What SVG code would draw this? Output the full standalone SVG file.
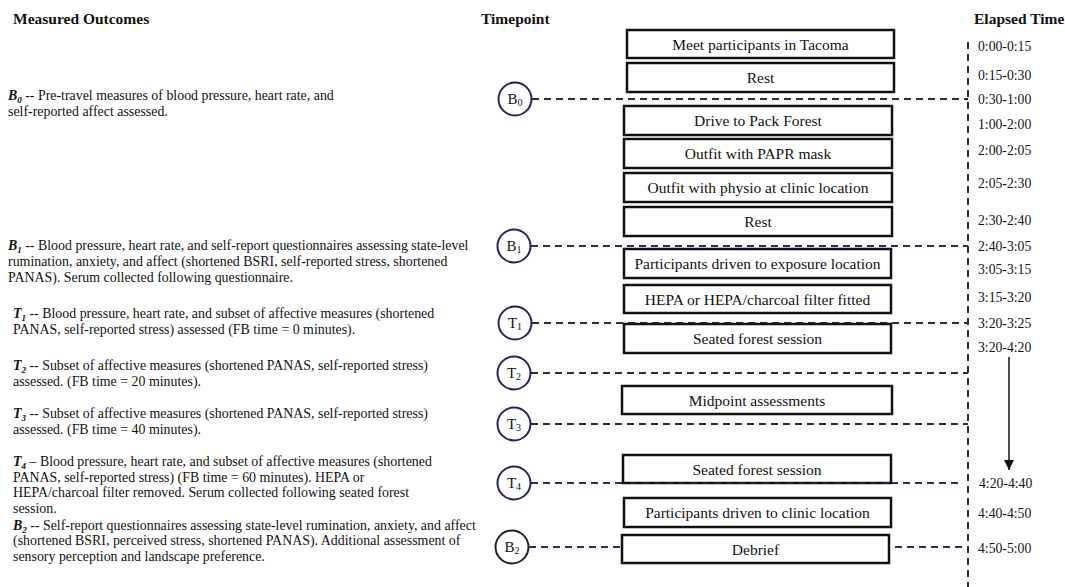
<svg xmlns="http://www.w3.org/2000/svg" width="1065" height="587" viewBox="0 0 1065 587">
<style>
text{font-family:"Liberation Serif","Times New Roman",serif;fill:#111}
.h{font-size:15.5px;font-weight:bold}
.d{font-size:13.9px}
.k{font-weight:bold;font-style:italic}
.sb{font-size:9px}
.et{font-size:13.7px}
.box rect{fill:#fff;stroke:#111;stroke-width:2.5}
.box text{font-size:15.5px;text-anchor:middle}
.tp circle{fill:#fff;stroke:#2b2161;stroke-width:2}
.tp text{font-size:15px;text-anchor:middle}
.dl{fill:none;stroke-width:2;stroke-dasharray:7 5}
.dk{stroke:#2e2e2e}
.nv{stroke:#33295f}
</style>
<defs>
<marker id="ah" viewBox="0 0 10 10" refX="10" refY="5" markerWidth="10" markerHeight="10" markerUnits="userSpaceOnUse" orient="auto"><path d="M0,0 L10,5 L0,10 z" fill="#111"/></marker>
</defs>
<rect width="1065" height="587" fill="#fff"/>
<g id="headers">
<text class="h" x="13" y="24">Measured Outcomes</text>
<text class="h" x="481" y="24">Timepoint</text>
<text class="h" x="974" y="24">Elapsed Time</text>
</g>
<g id="outcomes" class="d">
<text class="d" x="8" y="100"><tspan class="k">B</tspan><tspan class="k sb" dy="3">0</tspan><tspan dy="-3"> -- Pre-travel measures of blood pressure, heart rate, and</tspan></text>
<text class="d" x="8" y="116">self-reported affect assessed.</text>
<text class="d" x="8" y="250"><tspan class="k">B</tspan><tspan class="k sb" dy="3">1</tspan><tspan dy="-3"> -- Blood pressure, heart rate, and self-report questionnaires assessing state-level</tspan></text>
<text class="d" x="8" y="266">rumination, anxiety, and affect (shortened BSRI, self-reported stress, shortened</text>
<text class="d" x="8" y="282">PANAS). Serum collected following questionnaire.</text>
<text class="d" x="13" y="318"><tspan class="k">T</tspan><tspan class="k sb" dy="3">1</tspan><tspan dy="-3"> -- Blood pressure, heart rate, and subset of affective measures (shortened</tspan></text>
<text class="d" x="13" y="334">PANAS, self-reported stress) assessed (FB time = 0 minutes).</text>
<text class="d" x="13" y="370"><tspan class="k">T</tspan><tspan class="k sb" dy="3">2</tspan><tspan dy="-3"> -- Subset of affective measures (shortened PANAS, self-reported stress)</tspan></text>
<text class="d" x="13" y="386">assessed. (FB time = 20 minutes).</text>
<text class="d" x="13" y="418"><tspan class="k">T</tspan><tspan class="k sb" dy="3">3</tspan><tspan dy="-3"> -- Subset of affective measures (shortened PANAS, self-reported stress)</tspan></text>
<text class="d" x="13" y="434">assessed. (FB time = 40 minutes).</text>
<text class="d" x="13" y="466"><tspan class="k">T</tspan><tspan class="k sb" dy="3">4</tspan><tspan dy="-3"> – Blood pressure, heart rate, and subset of affective measures (shortened</tspan></text>
<text class="d" x="13" y="481.5">PANAS, self-reported stress) (FB time = 60 minutes). HEPA or</text>
<text class="d" x="13" y="497">HEPA/charcoal filter removed. Serum collected following seated forest</text>
<text class="d" x="13" y="512.5">session.</text>
<text class="d" x="13" y="529.5"><tspan class="k">B</tspan><tspan class="k sb" dy="3">2</tspan><tspan dy="-3"> -- Self-report questionnaires assessing state-level rumination, anxiety, and affect</tspan></text>
<text class="d" x="13" y="545">(shortened BSRI, perceived stress, shortened PANAS). Additional assessment of</text>
<text class="d" x="13" y="560.5">sensory perception and landscape preference.</text>
</g>
<g id="connectors">
<line class="dl dk" x1="968" y1="42" x2="968" y2="587" stroke-dasharray="7 4"/>
<line class="dl dk" x1="532" y1="99" x2="968" y2="99"/>
<line class="dl nv" x1="531" y1="246" x2="968" y2="246"/>
<line class="dl dk" x1="532" y1="323" x2="968" y2="323"/>
<line class="dl dk" x1="531" y1="373" x2="968" y2="373"/>
<line class="dl dk" x1="531" y1="424" x2="968" y2="424"/>
<line class="dl nv" x1="531" y1="483" x2="963" y2="483"/>
<line class="dl nv" x1="529" y1="547" x2="622" y2="547"/>
<line class="dl nv" x1="895" y1="547" x2="963" y2="547"/>
<line x1="1009" y1="357" x2="1009" y2="470" stroke="#111" stroke-width="1.5" marker-end="url(#ah)"/>
</g>
<g id="n1" class="box"><rect x="627" y="30" width="267" height="28"/><text x="760.5" y="49.5">Meet participants in Tacoma</text></g>
<g id="n2" class="box"><rect x="627" y="63" width="267" height="29"/><text x="760.5" y="83">Rest</text></g>
<g id="n3" class="box"><rect x="624" y="106" width="268" height="29"/><text x="758" y="126">Drive to Pack Forest</text></g>
<g id="n4" class="box"><rect x="624" y="139" width="268" height="29"/><text x="758" y="159">Outfit with PAPR mask</text></g>
<g id="n5" class="box"><rect x="624" y="173" width="268" height="29"/><text x="758" y="193">Outfit with physio at clinic location</text></g>
<g id="n6" class="box"><rect x="624" y="207" width="268" height="29"/><text x="758" y="227">Rest</text></g>
<g id="n7" class="box"><rect x="624" y="249" width="267" height="29"/><text x="757.5" y="269">Participants driven to exposure location</text></g>
<g id="n8" class="box"><rect x="624" y="285" width="267" height="28"/><text x="757.5" y="304.5">HEPA or HEPA/charcoal filter fitted</text></g>
<g id="n9" class="box"><rect x="624" y="324" width="267" height="29"/><text x="757.5" y="344">Seated forest session</text></g>
<g id="n10" class="box"><rect x="622" y="386" width="270" height="28"/><text x="757" y="405.5">Midpoint assessments</text></g>
<g id="n11" class="box"><rect x="623" y="455" width="268" height="28"/><text x="757" y="474.5">Seated forest session</text></g>
<g id="n12" class="box"><rect x="624" y="498" width="267" height="29"/><text x="757.5" y="518">Participants driven to clinic location</text></g>
<g id="n13" class="box"><rect x="622" y="535" width="267" height="28"/><text x="755.5" y="554.5">Debrief</text></g>
<line x1="630" y1="483" x2="889" y2="483" class="dl nv" stroke-opacity="0.5"/>
<g id="tB0" class="tp"><circle cx="515" cy="99" r="16.5"/><text x="515" y="104">B<tspan font-size="10" dy="2">0</tspan></text></g>
<g id="tB1" class="tp"><circle cx="514" cy="246" r="16.5"/><text x="514" y="251">B<tspan font-size="10" dy="2">1</tspan></text></g>
<g id="tT1" class="tp"><circle cx="515" cy="323" r="16.5"/><text x="515" y="328">T<tspan font-size="10" dy="2">1</tspan></text></g>
<g id="tT2" class="tp"><circle cx="514" cy="373" r="16.5"/><text x="514" y="378">T<tspan font-size="10" dy="2">2</tspan></text></g>
<g id="tT3" class="tp"><circle cx="514" cy="424" r="16.5"/><text x="514" y="429">T<tspan font-size="10" dy="2">3</tspan></text></g>
<g id="tT4" class="tp"><circle cx="514" cy="483" r="16.5"/><text x="514" y="488">T<tspan font-size="10" dy="2">4</tspan></text></g>
<g id="tB2" class="tp"><circle cx="512" cy="547" r="16.5" style="stroke:#222"/><text x="512" y="552">B<tspan font-size="10" dy="2">2</tspan></text></g>
<g id="times">
<text class="et" x="978" y="51">0:00-0:15</text>
<text class="et" x="978" y="79.5">0:15-0:30</text>
<text class="et" x="978" y="103.5">0:30-1:00</text>
<text class="et" x="978" y="128.5">1:00-2:00</text>
<text class="et" x="978" y="154.5">2:00-2:05</text>
<text class="et" x="978" y="187.5">2:05-2:30</text>
<text class="et" x="978" y="225">2:30-2:40</text>
<text class="et" x="978" y="251">2:40-3:05</text>
<text class="et" x="978" y="273.5">3:05-3:15</text>
<text class="et" x="978" y="301.5">3:15-3:20</text>
<text class="et" x="978" y="327.5">3:20-3:25</text>
<text class="et" x="978" y="351.5">3:20-4:20</text>
<text class="et" x="979" y="487.5">4:20-4:40</text>
<text class="et" x="978" y="517.5">4:40-4:50</text>
<text class="et" x="978" y="552.5">4:50-5:00</text>
</g>
</svg>
